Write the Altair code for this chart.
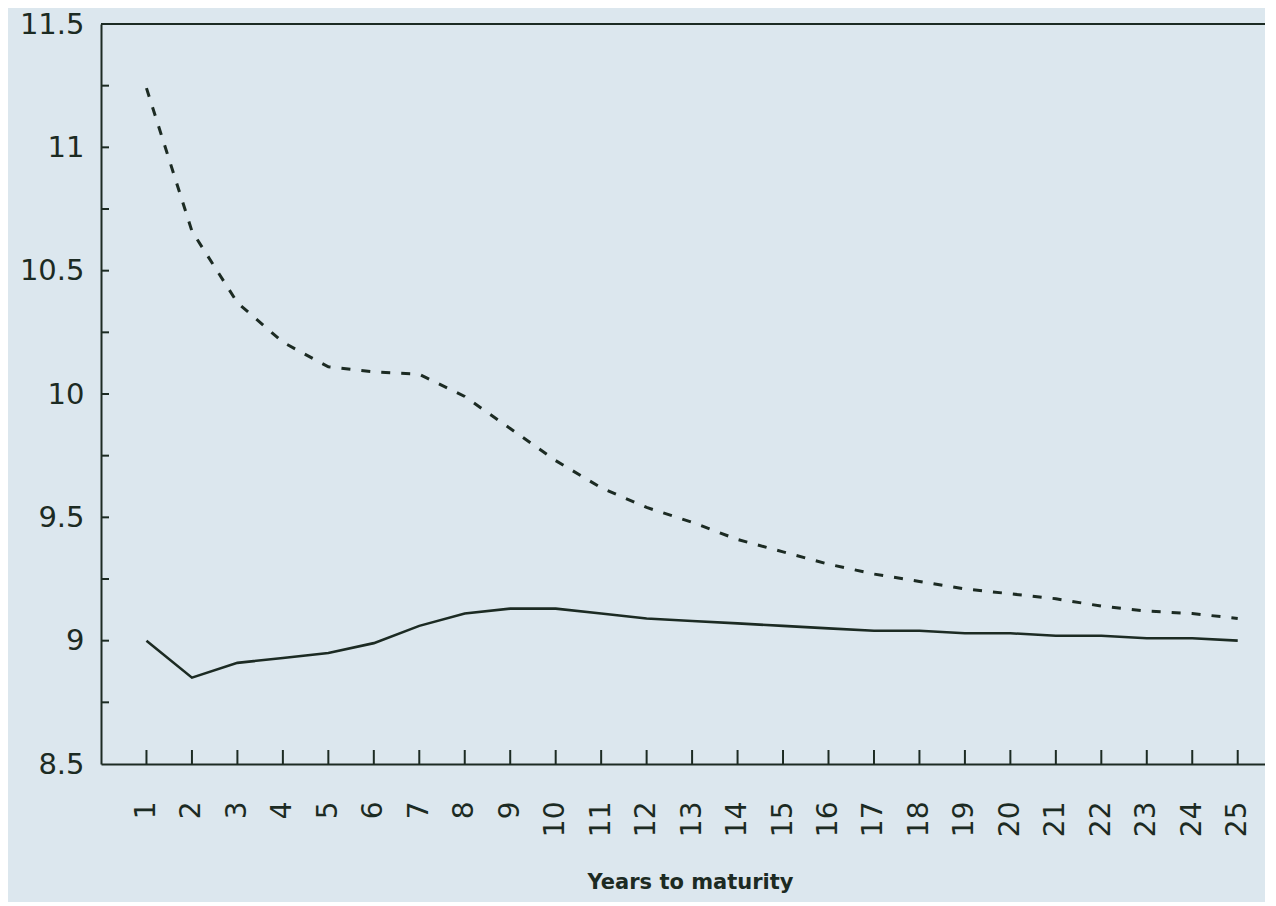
import altair as alt
import pandas as pd

# ---- data ----
years = list(range(1, 26))
dashed_vals = [11.24, 10.66, 10.37, 10.21, 10.11, 10.09, 10.08, 9.99, 9.86, 9.73,
               9.62, 9.54, 9.48, 9.41, 9.36, 9.31, 9.27, 9.24, 9.21, 9.19,
               9.17, 9.14, 9.12, 9.11, 9.09]
solid_vals = [9.00, 8.85, 8.91, 8.93, 8.95, 8.99, 9.06, 9.11, 9.13, 9.13,
              9.11, 9.09, 9.08, 9.07, 9.06, 9.05, 9.04, 9.04, 9.03, 9.03,
              9.02, 9.02, 9.01, 9.01, 9.00]
y_label_vals = [8.5, 9.0, 9.5, 10.0, 10.5, 11.0, 11.5]
y_tick_vals = [8.75, 9.0, 9.25, 9.5, 9.75, 10.0, 10.25, 10.5, 10.75, 11.0, 11.25]
x_title = "Years to maturity"

INK = "#1c2b23"
BG = "#dce7ee"
W, H = 1164, 740

df = pd.DataFrame({"year": years, "dashed": dashed_vals, "solid": solid_vals})
xticks_df = pd.DataFrame({"t": years})
yticks_df = pd.DataFrame({"v": y_tick_vals})

xscale = alt.Scale(domain=[0, 25.6], nice=False, zero=False)
yscale = alt.Scale(domain=[8.5, 11.5], nice=False, zero=False)

x_axis = alt.Axis(
    values=years, labelAngle=270, labelPadding=37, ticks=False, tickSize=0,
    domainColor=INK, domainWidth=2, grid=False, labelFlush=False, labelOverlap=False,
    labelFont="DejaVu Sans", labelFontSize=28, labelColor=INK,
    title=x_title, titleFont="DejaVu Sans", titleFontWeight="bold", titleFontSize=21,
    titleColor=INK, titleX=589, titleY=124, titleBaseline="alphabetic",
)
y_axis = alt.Axis(
    values=y_label_vals, format="~g", ticks=False, tickSize=0, labelPadding=17,
    domainColor=INK, domainWidth=2, grid=False, labelFlush=False, labelOverlap=False,
    labelFont="DejaVu Sans", labelFontSize=29, labelColor=INK, title=None,
)

base = alt.Chart(df)

solid = base.mark_line(color=INK, strokeWidth=2.6).encode(
    x=alt.X("year:Q", scale=xscale, axis=x_axis),
    y=alt.Y("solid:Q", scale=yscale, axis=y_axis),
)
dashed = base.mark_line(color=INK, strokeWidth=3, strokeDash=[9, 11]).encode(
    x=alt.X("year:Q", scale=xscale),
    y=alt.Y("dashed:Q", scale=yscale),
)

xticks = alt.Chart(xticks_df).mark_rule(color=INK, strokeWidth=2).encode(
    x=alt.X("t:Q", scale=xscale),
    y=alt.value(H),
    y2=alt.value(H - 14),
)
yticks = alt.Chart(yticks_df).mark_rule(color=INK, strokeWidth=2).encode(
    y=alt.Y("v:Q", scale=yscale),
    x=alt.value(0),
    x2=alt.value(8),
)
top_border = alt.Chart(df).mark_rule(color=INK, strokeWidth=2).encode(
    y=alt.datum(11.5, scale=yscale)
)

chart = (
    alt.layer(solid, dashed, xticks, yticks, top_border)
    .properties(
        width=W, height=H,
        autosize=alt.AutoSizeParams(type="none"),
        padding={"left": 93, "top": 16, "right": 0, "bottom": 138},
        background=BG,
    )
    .configure_view(stroke=None)
)

chart.save("out.html", embed_options={"renderer": "svg", "actions": False})
